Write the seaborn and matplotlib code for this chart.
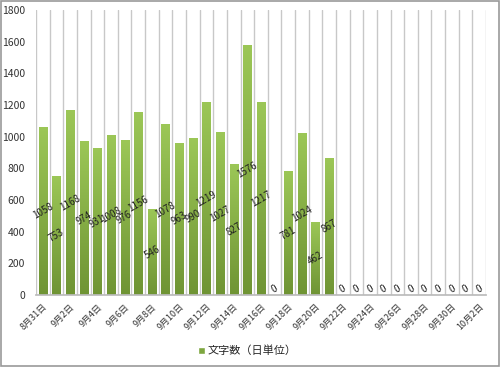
import matplotlib
matplotlib.use("Agg")
import matplotlib.pyplot as plt
import seaborn as sns
import numpy as np
import pandas as pd
from matplotlib.colors import LinearSegmentedColormap

dates = ["8月31日"] + [f"9月{d}日" for d in range(1, 31)] + ["10月1日", "10月2日"]
values = [1058, 753, 1168, 974, 931, 1008, 976, 1156, 546, 1078, 963, 990, 1219, 1027,
          827, 1576, 1217, 0, 781, 1024, 462, 867, 0, 0, 0, 0, 0, 0, 0, 0, 0, 0, 0]
series_name = "文字数（日単位）"

sns.set_theme(style="white")
plt.rcParams['font.family'] = ['Noto Sans CJK JP', 'DejaVu Sans']

df = pd.DataFrame({"date": dates, "value": values})

fig = plt.figure(figsize=(5, 3.67), dpi=100)
ax = fig.add_axes([0.072, 0.196, 0.9, 0.777])

sns.barplot(data=df, x="date", y="value", ax=ax, color="#7da63f", width=0.6,
            saturation=1, label=series_name)

cmap = LinearSegmentedColormap.from_list("g", ["#6f9434", "#9cc757"])
grad = np.linspace(0, 1, 256).reshape(-1, 1)
for p in ax.patches:
    x0, y0 = p.get_x(), p.get_y()
    w, h = p.get_width(), p.get_height()
    if h <= 0:
        continue
    im = ax.imshow(grad, cmap=cmap, aspect="auto", origin="lower",
                   extent=[x0, x0 + w, y0, y0 + h], zorder=p.get_zorder() + 0.1)
    im.set_clip_path(p)

n = len(dates)
ax.set_xlim(-0.5, n - 0.5)
ax.set_ylim(0, 1800)
for b in np.arange(-0.5, n, 1.0):
    ax.axvline(b, color="#c8c8c8", lw=1.0, zorder=0)

for i, v in enumerate(values):
    ax.text(i, v / 2 if v > 0 else 40, str(v), rotation=30, ha="center", va="center",
            fontsize=7, color="#222222", zorder=5)

ax.set_yticks(range(0, 1801, 200))
ax.tick_params(axis="y", labelsize=7.5, length=0, pad=8, colors="#333333")
ax.set_xticks(range(0, n, 2))
ax.set_xticklabels(dates[::2], rotation=45, ha="right", rotation_mode="anchor")
ax.tick_params(axis="x", labelsize=6.5, length=0, pad=5, colors="#333333")
ax.set_xlabel("")
ax.set_ylabel("")
for s in ["top", "right", "left"]:
    ax.spines[s].set_visible(False)
ax.spines["bottom"].set_color("#bbbbbb")

ax.legend(loc="center", bbox_to_anchor=(0.47, -0.195), frameon=False,
          fontsize=8, handlelength=0.6, handleheight=0.6, handletextpad=0.3)

fig.patches.append(plt.Rectangle((0.002, 0.003), 0.996, 0.994, transform=fig.transFigure,
                                 fill=False, edgecolor="#999999", lw=1.2))
fig.savefig("out.png", dpi=100)
